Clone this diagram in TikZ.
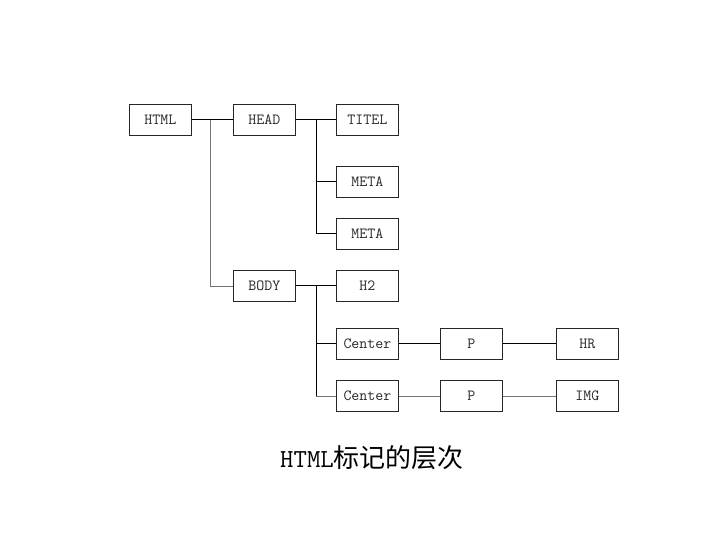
\documentclass[tikz,border=0pt]{standalone}
\usepackage{fontspec}
\newfontfamily\cjk{Noto Sans CJK SC}
\begin{document}
\begin{tikzpicture}[x=1pt,y=-1pt,
  box/.style={draw=black!85, line width=0.9pt, minimum width=62pt, minimum height=31pt, inner sep=0pt, font=\fontsize{15.5}{16}\ttfamily, anchor=north west, text=black!85},
  conn/.style={draw=black, line width=1pt},
  lconn/.style={draw=black!55, line width=0.9pt}]
\useasboundingbox (0,0) rectangle (720,540);
\node[box] (html) at (129,104) {HTML};
\node[box] (head) at (233,104) {HEAD};
\node[box] (titel) at (336,104) {TITEL};
\node[box] (meta1) at (336,166) {META};
\node[box] (meta2) at (336,218) {META};
\node[box] (body) at (233,270) {BODY};
\node[box] (h2) at (336,270) {H2};
\node[box] (c1) at (336,328) {Center};
\node[box] (p1) at (440,328) {P};
\node[box] (hr) at (556,328) {HR};
\node[box] (c2) at (336,380) {Center};
\node[box] (p2) at (440,380) {P};
\node[box] (img) at (556,380) {IMG};
\coordinate (j1) at (210,0);
\coordinate (j2) at (316,0);
\draw[conn] (html.east) -- (head.west);
\draw[lconn] (html.east -| j1) |- (body.west);
\draw[conn] (head.east) -- (titel.west);
\draw[conn] (head.east -| j2) |- (meta2.west);
\draw[conn] (meta1.west -| j2) -- (meta1.west);
\draw[conn] (body.east) -- (h2.west);
\draw[conn] (body.east -| j2) -- (c2.west -| j2);
\draw[conn] (c1.west -| j2) -- (c1.west);
\draw[lconn] (c2.west -| j2) -- (c2.west);
\draw[conn] (c1.east) -- (p1.west);
\draw[conn] (p1.east) -- (hr.west);
\draw[lconn] (c2.east) -- (p2.west);
\draw[lconn] (p2.east) -- (img.west);
\node[font=\fontsize{26}{28}\selectfont, inner sep=0pt] (title) at (372,458) {\ttfamily HTML\cjk 标记的层次};
\end{tikzpicture}
\end{document}
